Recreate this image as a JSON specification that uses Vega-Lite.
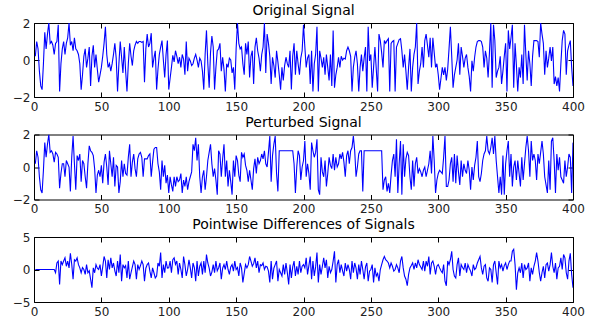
{
  "$schema": "https://vega.github.io/schema/vega-lite/v6.json",
  "background": "white",
  "padding": {"left": 12, "top": 4, "right": 5, "bottom": 5},
  "bounds": "flush",
  "spacing": 37.5,
  "config": {
    "view": {"stroke": null},
    "font": "DejaVu Sans",
    "axis": {
      "grid": false,
      "domainColor": "black",
      "domainWidth": 1,
      "tickColor": "black",
      "tickWidth": 1,
      "tickSize": -5,
      "labelFont": "DejaVu Sans",
      "labelFontSize": 12,
      "labelColor": "#222222",
      "labelFlush": false,
      "labelPadding": 9
    },
    "title": {"font": "DejaVu Sans", "fontSize": 14, "fontWeight": "normal", "color": "black", "anchor": "middle", "offset": -1}
  },
  "data": {"values": [
    {"t":1,"o":0.2,"p":0.2,"d":0},{"t":2,"o":1.0,"p":1.0,"d":0},{"t":3,"o":0.6,"p":0.6,"d":0},{"t":4,"o":-0.6,"p":-0.6,"d":0},{"t":5,"o":-1.4,"p":-1.4,"d":0},
    {"t":6,"o":-1.6,"p":-1.6,"d":0},{"t":7,"o":-0.2,"p":-0.2,"d":0},{"t":8,"o":1.5,"p":1.5,"d":0},{"t":9,"o":0.6,"p":0.6,"d":0},{"t":10,"o":1.4,"p":1.4,"d":0},
    {"t":11,"o":2.0,"p":2.0,"d":0},{"t":12,"o":0.9,"p":0.9,"d":0},{"t":13,"o":1.0,"p":1.0,"d":0},{"t":14,"o":0.8,"p":0.8,"d":0},{"t":15,"o":0.3,"p":0.3,"d":0},
    {"t":16,"o":0.9,"p":0.9,"d":-0.5},{"t":17,"o":1.0,"p":0.8,"d":1.0},{"t":18,"o":1.9,"p":0.6,"d":1.3},{"t":19,"o":-1.7,"p":-1.3,"d":-2.3},{"t":20,"o":-0.2,"p":-0.4,"d":1.3},
    {"t":21,"o":0.6,"p":0.2,"d":0.75},{"t":22,"o":1.0,"p":0.2,"d":1.3},{"t":23,"o":0.3,"p":-0.6,"d":1.8},{"t":24,"o":0.9,"p":0.4,"d":0.5},{"t":25,"o":1.2,"p":0.2,"d":1.3},
    {"t":26,"o":2.0,"p":0.0,"d":0.25},{"t":27,"o":0.8,"p":-1.5,"d":2.5},{"t":28,"o":1.0,"p":0.6,"d":0.8},{"t":29,"o":0.5,"p":1.9,"d":-1.5},{"t":30,"o":1.2,"p":0.2,"d":1.5},
    {"t":31,"o":0.6,"p":-1.4,"d":1.3},{"t":32,"o":0.5,"p":0.7,"d":1.8},{"t":33,"o":0.3,"p":0.4,"d":0.75},{"t":34,"o":-0.2,"p":0.8,"d":0.25},{"t":35,"o":-1.6,"p":-0.9,"d":-0.5},
    {"t":36,"o":-0.8,"p":0.4,"d":0.3},{"t":37,"o":0.2,"p":0.2,"d":0.0},{"t":38,"o":0.6,"p":-0.6,"d":-0.75},{"t":39,"o":-0.4,"p":-1.3,"d":0.75},{"t":40,"o":0.1,"p":0.2,"d":-0.5},
    {"t":41,"o":0.7,"p":1.3,"d":-0.2},{"t":42,"o":-1.4,"p":1.0,"d":-1.5},{"t":43,"o":0.2,"p":0.9,"d":-2.8},{"t":44,"o":0.8,"p":0.7,"d":0.25},{"t":45,"o":-0.4,"p":-0.1,"d":-0.5},
    {"t":46,"o":0.3,"p":-1.6,"d":0.75},{"t":47,"o":-0.5,"p":-0.5,"d":0.2},{"t":48,"o":-1.2,"p":-0.2,"d":0.0},{"t":49,"o":-0.8,"p":-0.6,"d":0.75},{"t":50,"o":-0.4,"p":0.1,"d":-1.0},
    {"t":51,"o":0.2,"p":-1.0,"d":0.4},{"t":52,"o":0.9,"p":0.3,"d":2.0},{"t":53,"o":1.8,"p":0.8,"d":1.3},{"t":54,"o":0.3,"p":0.0,"d":-1.3},{"t":55,"o":-0.4,"p":-1.1,"d":1.5},
    {"t":56,"o":-0.2,"p":1.0,"d":0.0},{"t":57,"o":-0.6,"p":0.2,"d":1.8},{"t":58,"o":-0.2,"p":-0.6,"d":0.25},{"t":59,"o":0.3,"p":0.6,"d":1.0},{"t":60,"o":0.9,"p":-1.2,"d":-0.2},
    {"t":61,"o":0.1,"p":0.1,"d":-1.0},{"t":62,"o":-1.7,"p":0.0,"d":1.3},{"t":63,"o":-0.2,"p":-1.6,"d":-0.5},{"t":64,"o":1.0,"p":-0.9,"d":2.3},{"t":65,"o":0.15,"p":0.4,"d":-1.8},
    {"t":66,"o":-0.7,"p":-0.6,"d":0.75},{"t":67,"o":0.7,"p":0.2,"d":0.25},{"t":68,"o":-0.6,"p":-0.4,"d":0.6},{"t":69,"o":-1.7,"p":-0.5,"d":-1.3},{"t":70,"o":-0.2,"p":0.6,"d":1.3},
    {"t":71,"o":0.9,"p":1.4,"d":-1.5},{"t":72,"o":0.2,"p":-0.6,"d":-0.5},{"t":73,"o":-0.3,"p":0.3,"d":0.4},{"t":74,"o":0.5,"p":0.8,"d":1.3},{"t":75,"o":0.8,"p":-0.1,"d":0.75},
    {"t":76,"o":1.0,"p":-0.6,"d":-1.5},{"t":77,"o":0.9,"p":0.5,"d":0.75},{"t":78,"o":1.0,"p":0.8,"d":0.0},{"t":79,"o":1.0,"p":0.9,"d":0.6},{"t":80,"o":0.95,"p":0.6,"d":1.3},
    {"t":81,"o":1.0,"p":-0.6,"d":0.75},{"t":82,"o":-1.2,"p":0.5,"d":-1.8},{"t":83,"o":0.6,"p":0.5,"d":0.2},{"t":84,"o":1.4,"p":0.5,"d":0.75},{"t":85,"o":0.7,"p":0.7,"d":1.0},
    {"t":86,"o":0.9,"p":0.8,"d":-0.25},{"t":87,"o":1.45,"p":-0.6,"d":-1.3},{"t":88,"o":-0.4,"p":0.3,"d":0.25},{"t":89,"o":0.1,"p":1.1,"d":-0.5},{"t":90,"o":0.5,"p":1.2,"d":-1.3},
    {"t":91,"o":-1.6,"p":1.2,"d":-1.0},{"t":92,"o":-0.5,"p":0.2,"d":1.0},{"t":93,"o":0.3,"p":-0.3,"d":0.5},{"t":94,"o":0.7,"p":-1.4,"d":2.6},{"t":95,"o":1.05,"p":0.4,"d":-1.3},
    {"t":96,"o":0.0,"p":-0.6,"d":0.75},{"t":97,"o":-0.95,"p":0.1,"d":-0.5},{"t":98,"o":0.3,"p":-1.0,"d":1.3},{"t":99,"o":1.05,"p":-0.5,"d":0.2},{"t":100,"o":-1.6,"p":-1.6,"d":0.25},
    {"t":101,"o":-1.0,"p":-0.6,"d":1.3},{"t":102,"o":-0.4,"p":-1.1,"d":-0.5},{"t":103,"o":0.25,"p":-1.5,"d":1.5},{"t":104,"o":-0.1,"p":-0.6,"d":1.8},{"t":105,"o":0.5,"p":-1.2,"d":0.8},
    {"t":106,"o":0.2,"p":-0.6,"d":1.3},{"t":107,"o":-0.2,"p":-0.9,"d":-0.75},{"t":108,"o":0.15,"p":-0.8,"d":1.0},{"t":109,"o":-0.4,"p":-0.4,"d":0.0},{"t":110,"o":0.3,"p":-1.6,"d":-1.3},
    {"t":111,"o":0.05,"p":-0.8,"d":2.0},{"t":112,"o":-0.8,"p":-1.2,"d":0.75},{"t":113,"o":1.0,"p":-0.6,"d":-1.0},{"t":114,"o":-0.6,"p":-1.4,"d":0.0},{"t":115,"o":0.1,"p":-0.9,"d":1.5},
    {"t":116,"o":-0.05,"p":-0.6,"d":0.25},{"t":117,"o":-0.3,"p":-0.3,"d":-1.3},{"t":118,"o":-0.2,"p":1.4,"d":1.0},{"t":119,"o":0.1,"p":1.0,"d":0.3},{"t":120,"o":0.3,"p":1.8,"d":-1.8},
    {"t":121,"o":0.0,"p":0.4,"d":1.3},{"t":122,"o":-0.4,"p":1.4,"d":-1.0},{"t":123,"o":0.1,"p":-0.6,"d":0.5},{"t":124,"o":-0.05,"p":-1.6,"d":1.0},{"t":125,"o":-0.6,"p":-0.6,"d":-0.75},
    {"t":126,"o":-1.6,"p":-0.2,"d":1.3},{"t":127,"o":0.3,"p":-1.4,"d":-0.5},{"t":128,"o":1.6,"p":-0.6,"d":2.3},{"t":129,"o":-0.2,"p":0.4,"d":1.0},{"t":130,"o":-1.5,"p":0.9,"d":0.2},
    {"t":131,"o":0.4,"p":1.4,"d":-1.0},{"t":132,"o":1.3,"p":0.2,"d":-0.4},{"t":133,"o":0.7,"p":-0.6,"d":0.75},{"t":134,"o":-1.6,"p":-0.1,"d":-0.5},{"t":135,"o":-0.4,"p":-0.8,"d":1.3},
    {"t":136,"o":0.5,"p":-1.7,"d":-0.2},{"t":137,"o":0.6,"p":1.0,"d":0.25},{"t":138,"o":0.9,"p":0.8,"d":1.0},{"t":139,"o":-0.6,"p":-0.6,"d":-1.5},{"t":140,"o":0.15,"p":0.5,"d":0.2},
    {"t":141,"o":-0.5,"p":1.4,"d":0.75},{"t":142,"o":-1.7,"p":-0.6,"d":0.0},{"t":143,"o":-0.2,"p":0.4,"d":1.3},{"t":144,"o":-0.4,"p":-1.2,"d":0.0},{"t":145,"o":0.1,"p":-0.2,"d":-0.75},
    {"t":146,"o":0.0,"p":-0.9,"d":0.4},{"t":147,"o":-0.7,"p":-1.7,"d":0.75},{"t":148,"o":-0.4,"p":0.4,"d":-0.25},{"t":149,"o":-1.6,"p":-0.6,"d":1.3},{"t":150,"o":0.6,"p":0.7,"d":0.0},
    {"t":151,"o":2.0,"p":0.4,"d":0.3},{"t":152,"o":0.9,"p":-0.5,"d":-1.0},{"t":153,"o":0.6,"p":-0.9,"d":1.0},{"t":154,"o":0.7,"p":0.9,"d":0.25},{"t":155,"o":-0.2,"p":0.6,"d":-2.0},
    {"t":156,"o":-0.8,"p":0.8,"d":-0.6},{"t":157,"o":0.9,"p":0.1,"d":0.75},{"t":158,"o":0.3,"p":-0.2,"d":0.25},{"t":159,"o":1.0,"p":-0.9,"d":0.75},{"t":160,"o":-0.95,"p":-0.2,"d":2.0},
    {"t":161,"o":0.2,"p":-0.8,"d":1.3},{"t":162,"o":0.5,"p":-1.4,"d":0.5},{"t":163,"o":-1.3,"p":-0.1,"d":0.9},{"t":164,"o":0.7,"p":0.5,"d":1.8},{"t":165,"o":1.2,"p":-0.4,"d":0.25},
    {"t":166,"o":0.5,"p":0.6,"d":1.3},{"t":167,"o":0.1,"p":0.2,"d":-0.5},{"t":168,"o":-0.6,"p":0.4,"d":0.75},{"t":169,"o":0.3,"p":0.8,"d":0.6},{"t":170,"o":0.7,"p":0.5,"d":1.0},
    {"t":171,"o":2.0,"p":1.0,"d":0.0},{"t":172,"o":-0.7,"p":0.2,"d":0.5},{"t":173,"o":1.4,"p":0.0,"d":0.4},{"t":174,"o":0.9,"p":0.9,"d":-0.25},{"t":175,"o":0.2,"p":1.9,"d":-2.0},
    {"t":176,"o":-1.3,"p":-0.9,"d":1.3},{"t":177,"o":0.15,"p":0.7,"d":-1.5},{"t":178,"o":-0.3,"p":1.4,"d":0.2},{"t":179,"o":-0.95,"p":1.9,"d":0.75},{"t":180,"o":0.5,"p":-0.4,"d":1.3},
    {"t":181,"o":-0.1,"p":-1.5,"d":-1.8},{"t":182,"o":-0.8,"p":1.0,"d":0.0},{"t":183,"o":-1.6,"p":1.0,"d":-0.5},{"t":184,"o":-0.4,"p":1.0,"d":-1.0},{"t":185,"o":-1.1,"p":1.0,"d":0.75},
    {"t":186,"o":-0.3,"p":1.0,"d":-0.75},{"t":187,"o":0.15,"p":1.0,"d":1.0},{"t":188,"o":-0.2,"p":1.0,"d":-0.5},{"t":189,"o":-0.4,"p":1.0,"d":-2.3},{"t":190,"o":0.5,"p":1.0,"d":0.75},
    {"t":191,"o":-1.6,"p":1.0,"d":-1.3},{"t":192,"o":0.2,"p":1.0,"d":0.4},{"t":193,"o":0.9,"p":0.2,"d":1.3},{"t":194,"o":-0.8,"p":-1.6,"d":-1.0},{"t":195,"o":0.5,"p":0.0,"d":0.5},
    {"t":196,"o":-0.2,"p":1.0,"d":-0.75},{"t":197,"o":-0.8,"p":0.7,"d":1.3},{"t":198,"o":0.1,"p":-0.8,"d":-0.5},{"t":199,"o":0.5,"p":0.0,"d":0.5},{"t":200,"o":1.9,"p":0.4,"d":0.75},
    {"t":201,"o":0.7,"p":1.6,"d":0.25},{"t":202,"o":-0.4,"p":-0.6,"d":1.8},{"t":203,"o":0.1,"p":0.2,"d":-0.75},{"t":204,"o":0.3,"p":-0.4,"d":0.6},{"t":205,"o":-1.3,"p":-1.4,"d":2.0},
    {"t":206,"o":0.5,"p":1.5,"d":-1.5},{"t":207,"o":-1.7,"p":1.0,"d":1.3},{"t":208,"o":-0.2,"p":0.6,"d":-1.0},{"t":209,"o":0.3,"p":0.9,"d":0.4},{"t":210,"o":1.8,"p":1.7,"d":2.6},
    {"t":211,"o":-1.7,"p":-1.4,"d":-2.0},{"t":212,"o":0.5,"p":-1.7,"d":0.75},{"t":213,"o":0.1,"p":0.6,"d":-0.75},{"t":214,"o":-0.4,"p":-0.3,"d":0.5},{"t":215,"o":0.15,"p":-0.6,"d":1.8},
    {"t":216,"o":-0.8,"p":0.4,"d":0.25},{"t":217,"o":0.3,"p":-1.2,"d":1.5},{"t":218,"o":-0.4,"p":-0.4,"d":-1.3},{"t":219,"o":-1.1,"p":0.6,"d":0.5},{"t":220,"o":0.3,"p":0.1,"d":-0.5},
    {"t":221,"o":-1.4,"p":-0.1,"d":0.0},{"t":222,"o":1.6,"p":0.8,"d":1.3},{"t":223,"o":-1.5,"p":-0.2,"d":2.8},{"t":224,"o":-0.8,"p":0.6,"d":-2.0},{"t":225,"o":-0.4,"p":0.0,"d":0.75},
    {"t":226,"o":0.15,"p":0.2,"d":1.5},{"t":227,"o":-0.4,"p":0.8,"d":-0.5},{"t":228,"o":0.2,"p":0.5,"d":0.75},{"t":229,"o":0.0,"p":0.9,"d":-0.2},{"t":230,"o":0.1,"p":0.3,"d":-1.0},
    {"t":231,"o":0.05,"p":-0.6,"d":1.0},{"t":232,"o":0.5,"p":0.7,"d":-0.25},{"t":233,"o":0.7,"p":1.0,"d":0.75},{"t":234,"o":0.5,"p":0.2,"d":0.0},{"t":235,"o":0.2,"p":1.0,"d":-1.5},
    {"t":236,"o":-1.7,"p":1.2,"d":1.3},{"t":237,"o":-0.4,"p":1.9,"d":-0.5},{"t":238,"o":0.15,"p":1.0,"d":1.0},{"t":239,"o":0.5,"p":-0.6,"d":0.2},{"t":240,"o":-0.2,"p":0.0,"d":-1.5},
    {"t":241,"o":-1.7,"p":0.8,"d":0.75},{"t":242,"o":-0.4,"p":1.0,"d":-0.75},{"t":243,"o":0.3,"p":1.0,"d":1.3},{"t":244,"o":-0.6,"p":-1.5,"d":0.0},{"t":245,"o":0.1,"p":1.0,"d":-1.5},
    {"t":246,"o":0.7,"p":1.0,"d":0.4},{"t":247,"o":-1.7,"p":1.0,"d":1.0},{"t":248,"o":1.8,"p":1.0,"d":-1.8},{"t":249,"o":-0.05,"p":1.0,"d":-0.25},{"t":250,"o":0.3,"p":1.0,"d":0.0},
    {"t":251,"o":-1.5,"p":1.0,"d":0.75},{"t":252,"o":-0.4,"p":1.0,"d":-2.0},{"t":253,"o":0.7,"p":1.0,"d":0.25},{"t":254,"o":-0.5,"p":1.0,"d":-1.0},{"t":255,"o":-1.7,"p":1.0,"d":-0.6},
    {"t":256,"o":1.4,"p":1.0,"d":-1.8},{"t":257,"o":1.05,"p":1.0,"d":0.0},{"t":258,"o":0.4,"p":1.0,"d":0.75},{"t":259,"o":-0.4,"p":-1.4,"d":1.5},{"t":260,"o":1.05,"p":-0.8,"d":2.0},
    {"t":261,"o":0.9,"p":-0.6,"d":1.5},{"t":262,"o":1.05,"p":-1.5,"d":1.3},{"t":263,"o":1.15,"p":-1.0,"d":1.0},{"t":264,"o":-1.7,"p":-1.6,"d":0.25},{"t":265,"o":0.9,"p":-0.5,"d":1.0},
    {"t":266,"o":1.0,"p":0.4,"d":0.5},{"t":267,"o":1.05,"p":0.8,"d":-0.25},{"t":268,"o":-1.7,"p":-0.6,"d":0.0},{"t":269,"o":0.7,"p":1.7,"d":0.75},{"t":270,"o":0.9,"p":-1.6,"d":0.25},
    {"t":271,"o":1.1,"p":0.2,"d":-0.5},{"t":272,"o":1.15,"p":1.6,"d":1.3},{"t":273,"o":0.5,"p":-1.7,"d":2.0},{"t":274,"o":-0.4,"p":1.4,"d":0.25},{"t":275,"o":0.3,"p":-0.6,"d":-1.0},
    {"t":276,"o":-0.6,"p":0.5,"d":-1.5},{"t":277,"o":-1.6,"p":0.9,"d":-2.5},{"t":278,"o":-0.4,"p":0.7,"d":-0.75},{"t":279,"o":0.6,"p":-0.6,"d":0.25},{"t":280,"o":-1.7,"p":-1.4,"d":0.6},
    {"t":281,"o":-0.4,"p":0.4,"d":1.0},{"t":282,"o":0.3,"p":-1.2,"d":0.0},{"t":283,"o":0.7,"p":0.2,"d":1.0},{"t":284,"o":2.0,"p":0.6,"d":0.25},{"t":285,"o":-1.3,"p":-0.4,"d":1.5},
    {"t":286,"o":-0.6,"p":-0.1,"d":0.75},{"t":287,"o":-0.2,"p":-0.3,"d":0.4},{"t":288,"o":0.7,"p":-0.6,"d":0.0},{"t":289,"o":-0.4,"p":-0.2,"d":1.3},{"t":290,"o":1.05,"p":0.0,"d":-0.25},
    {"t":291,"o":1.4,"p":-0.6,"d":1.3},{"t":292,"o":0.8,"p":-0.2,"d":0.5},{"t":293,"o":0.15,"p":0.2,"d":2.0},{"t":294,"o":1.2,"p":1.0,"d":-0.75},{"t":295,"o":-0.4,"p":-0.4,"d":1.0},
    {"t":296,"o":1.2,"p":1.9,"d":1.3},{"t":297,"o":0.4,"p":0.4,"d":0.5},{"t":298,"o":-0.4,"p":-1.6,"d":-0.75},{"t":299,"o":-0.2,"p":-0.8,"d":0.5},{"t":300,"o":-0.8,"p":-0.4,"d":0.75},
    {"t":301,"o":-1.6,"p":-0.2,"d":0.25},{"t":302,"o":-1.0,"p":-0.3,"d":-0.2},{"t":303,"o":-0.4,"p":-0.4,"d":-0.5},{"t":304,"o":-0.8,"p":0.6,"d":0.75},{"t":305,"o":-0.4,"p":1.9,"d":-1.8},
    {"t":306,"o":-1.1,"p":-1.2,"d":-2.5},{"t":307,"o":-0.5,"p":-1.2,"d":1.3},{"t":308,"o":0.6,"p":-0.8,"d":0.75},{"t":309,"o":1.8,"p":0.2,"d":1.5},{"t":310,"o":0.2,"p":0.6,"d":2.8},
    {"t":311,"o":-1.5,"p":-0.9,"d":0.0},{"t":312,"o":-0.8,"p":0.8,"d":-1.0},{"t":313,"o":-0.4,"p":-1.0,"d":-1.3},{"t":314,"o":0.0,"p":0.7,"d":0.75},{"t":315,"o":0.9,"p":-0.3,"d":1.8},
    {"t":316,"o":-0.8,"p":-1.1,"d":-1.0},{"t":317,"o":0.7,"p":0.4,"d":0.75},{"t":318,"o":0.2,"p":-0.6,"d":0.3},{"t":319,"o":-0.4,"p":0.2,"d":0.0},{"t":320,"o":0.1,"p":-0.2,"d":1.0},
    {"t":321,"o":0.3,"p":-0.4,"d":-0.5},{"t":322,"o":-0.4,"p":0.4,"d":0.75},{"t":323,"o":-0.9,"p":-0.2,"d":0.2},{"t":324,"o":-1.7,"p":-1.4,"d":-0.25},{"t":325,"o":-0.04,"p":0.0,"d":-1.0},
    {"t":326,"o":-0.6,"p":-0.8,"d":0.75},{"t":327,"o":0.15,"p":0.1,"d":0.0},{"t":328,"o":0.7,"p":0.6,"d":0.25},{"t":329,"o":1.0,"p":1.6,"d":1.0},{"t":330,"o":1.05,"p":-0.6,"d":1.5},
    {"t":331,"o":1.05,"p":-0.9,"d":2.0},{"t":332,"o":1.0,"p":-0.4,"d":0.25},{"t":333,"o":0.7,"p":0.4,"d":-0.75},{"t":334,"o":-0.4,"p":0.8,"d":0.5},{"t":335,"o":0.5,"p":1.0,"d":0.75},
    {"t":336,"o":0.1,"p":1.9,"d":-1.3},{"t":337,"o":-0.95,"p":1.0,"d":-1.8},{"t":338,"o":0.4,"p":0.8,"d":0.25},{"t":339,"o":2.0,"p":1.2,"d":0.0},{"t":340,"o":-1.5,"p":1.8,"d":-2.0},
    {"t":341,"o":1.9,"p":0.8,"d":0.75},{"t":342,"o":1.05,"p":1.9,"d":1.3},{"t":343,"o":-0.95,"p":0.4,"d":-0.5},{"t":344,"o":-0.6,"p":-0.6,"d":-2.3},{"t":345,"o":-0.4,"p":-1.6,"d":1.3},
    {"t":346,"o":0.2,"p":-0.6,"d":0.25},{"t":347,"o":-1.3,"p":-1.7,"d":0.75},{"t":348,"o":-0.6,"p":0.7,"d":-0.25},{"t":349,"o":0.2,"p":-1.7,"d":0.6},{"t":350,"o":0.9,"p":0.2,"d":1.0},
    {"t":351,"o":-1.7,"p":1.0,"d":0.0},{"t":352,"o":1.6,"p":1.6,"d":0.75},{"t":353,"o":0.6,"p":-0.6,"d":1.3},{"t":354,"o":1.2,"p":0.8,"d":1.3},{"t":355,"o":1.9,"p":-1.2,"d":2.8},
    {"t":356,"o":-1.5,"p":0.0,"d":3.1},{"t":357,"o":0.9,"p":0.4,"d":0.75},{"t":358,"o":-0.3,"p":-0.8,"d":-3.1},{"t":359,"o":-1.7,"p":0.4,"d":-0.5},{"t":360,"o":-0.4,"p":-0.4,"d":0.25},
    {"t":361,"o":-0.95,"p":-1.2,"d":-0.5},{"t":362,"o":0.3,"p":0.6,"d":1.0},{"t":363,"o":-1.3,"p":-0.8,"d":-1.3},{"t":364,"o":1.9,"p":0.2,"d":0.75},{"t":365,"o":0.3,"p":1.2,"d":0.0},
    {"t":366,"o":-1.1,"p":1.9,"d":0.25},{"t":367,"o":0.5,"p":1.0,"d":1.0},{"t":368,"o":-0.2,"p":-0.6,"d":-1.8},{"t":369,"o":-1.4,"p":1.6,"d":0.25},{"t":370,"o":0.2,"p":0.4,"d":-0.75},
    {"t":371,"o":1.05,"p":0.8,"d":0.5},{"t":372,"o":1.05,"p":0.4,"d":1.3},{"t":373,"o":1.05,"p":-0.8,"d":2.6},{"t":374,"o":1.0,"p":0.8,"d":1.3},{"t":375,"o":0.15,"p":0.2,"d":-0.5},
    {"t":376,"o":2.0,"p":0.9,"d":-1.8},{"t":377,"o":1.4,"p":1.6,"d":-0.5},{"t":378,"o":0.9,"p":0.8,"d":0.5},{"t":379,"o":-0.8,"p":-0.6,"d":-1.3},{"t":380,"o":0.5,"p":-1.1,"d":0.75},
    {"t":381,"o":-0.4,"p":-1.6,"d":1.0},{"t":382,"o":0.1,"p":0.4,"d":-0.25},{"t":383,"o":0.7,"p":-1.4,"d":0.75},{"t":384,"o":-0.05,"p":1.6,"d":2.6},{"t":385,"o":0.7,"p":1.8,"d":0.5},
    {"t":386,"o":-1.3,"p":0.4,"d":-0.5},{"t":387,"o":-0.9,"p":-1.6,"d":1.0},{"t":388,"o":-1.4,"p":0.8,"d":-1.5},{"t":389,"o":-0.95,"p":-0.2,"d":0.25},{"t":390,"o":-1.7,"p":0.6,"d":0.5},
    {"t":391,"o":-0.2,"p":-0.6,"d":1.8},{"t":392,"o":1.05,"p":-0.8,"d":0.0},{"t":393,"o":1.6,"p":-1.0,"d":2.3},{"t":394,"o":1.4,"p":0.4,"d":1.8},{"t":395,"o":-0.8,"p":-0.6,"d":-0.5},
    {"t":396,"o":0.5,"p":0.0,"d":-1.5},{"t":397,"o":0.8,"p":0.8,"d":1.3},{"t":398,"o":1.05,"p":0.6,"d":2.5},{"t":399,"o":-0.4,"p":-1.6,"d":-0.75},{"t":400,"o":-1.4,"p":1.5,"d":-2.8}
  ]},
  "vconcat": [
    {
      "width": 539,
      "height": 74,
      "title": "Original Signal",
      "layer": [
        {
          "mark": {"type": "line", "color": "#0000ff", "strokeWidth": 1.1, "clip": true},
          "encoding": {
            "x": {"field": "t", "type": "quantitative", "scale": {"domain": [0, 400], "nice": false}, "axis": {"title": null, "orient": "bottom", "values": [0, 50, 100, 150, 200, 250, 300, 350, 400]}},
            "y": {"field": "o", "type": "quantitative", "scale": {"domain": [-2, 2], "nice": false}, "axis": {"title": null, "orient": "left", "values": [-2, 0, 2]}}
          }
        },
        {
          "mark": {"type": "line", "strokeOpacity": 0},
          "encoding": {
            "x": {"field": "t", "type": "quantitative", "axis": {"title": null, "orient": "top", "labels": false, "values": [0, 50, 100, 150, 200, 250, 300, 350, 400]}},
            "y": {"field": "o", "type": "quantitative", "axis": {"title": null, "orient": "right", "labels": false, "values": [-2, 0, 2]}}
          }
        }
      ],
      "resolve": {"axis": {"x": "independent", "y": "independent"}}
    },
    {
      "width": 539,
      "height": 65,
      "title": "Perturbed Signal",
      "layer": [
        {
          "mark": {"type": "line", "color": "#0000ff", "strokeWidth": 1.1, "clip": true},
          "encoding": {
            "x": {"field": "t", "type": "quantitative", "scale": {"domain": [0, 400], "nice": false}, "axis": {"title": null, "orient": "bottom", "values": [0, 50, 100, 150, 200, 250, 300, 350, 400]}},
            "y": {"field": "p", "type": "quantitative", "scale": {"domain": [-2, 2], "nice": false}, "axis": {"title": null, "orient": "left", "values": [-2, 0, 2]}}
          }
        },
        {
          "mark": {"type": "line", "strokeOpacity": 0},
          "encoding": {
            "x": {"field": "t", "type": "quantitative", "axis": {"title": null, "orient": "top", "labels": false, "values": [0, 50, 100, 150, 200, 250, 300, 350, 400]}},
            "y": {"field": "p", "type": "quantitative", "axis": {"title": null, "orient": "right", "labels": false, "values": [-2, 0, 2]}}
          }
        }
      ],
      "resolve": {"axis": {"x": "independent", "y": "independent"}}
    },
    {
      "width": 539,
      "height": 65,
      "title": "Pointwise Differences of Signals",
      "layer": [
        {
          "mark": {"type": "line", "color": "#0000ff", "strokeWidth": 1.1, "clip": true},
          "encoding": {
            "x": {"field": "t", "type": "quantitative", "scale": {"domain": [0, 400], "nice": false}, "axis": {"title": null, "orient": "bottom", "values": [0, 50, 100, 150, 200, 250, 300, 350, 400]}},
            "y": {"field": "d", "type": "quantitative", "scale": {"domain": [-5, 5], "nice": false}, "axis": {"title": null, "orient": "left", "values": [-5, 0, 5]}}
          }
        },
        {
          "mark": {"type": "line", "strokeOpacity": 0},
          "encoding": {
            "x": {"field": "t", "type": "quantitative", "axis": {"title": null, "orient": "top", "labels": false, "values": [0, 50, 100, 150, 200, 250, 300, 350, 400]}},
            "y": {"field": "d", "type": "quantitative", "axis": {"title": null, "orient": "right", "labels": false, "values": [-5, 0, 5]}}
          }
        }
      ],
      "resolve": {"axis": {"x": "independent", "y": "independent"}}
    }
  ]
}
